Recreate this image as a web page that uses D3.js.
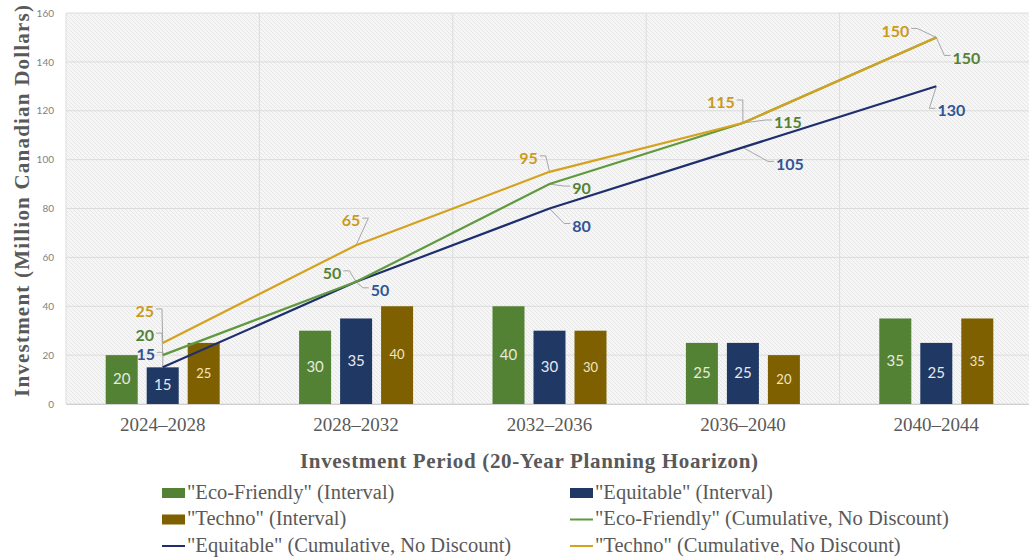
<!DOCTYPE html>
<html><head><meta charset="utf-8">
<script src="https://cdn.jsdelivr.net/npm/d3@7"></script>
<style>body{margin:0;background:#fff}svg{display:block}</style>
</head><body><svg id="c" width="1029" height="558"></svg>
<script>
const categories = ["2024–2028","2028–2032","2032–2036","2036–2040","2040–2044"];
const ecoInterval = [20,30,40,25,35];
const equInterval = [15,35,30,25,25];
const techInterval = [25,40,30,20,35];
const ecoCum = [20,50,90,115,150];
const equCum = [15,50,80,105,130];
const techCum = [25,65,95,115,150];
const yTicks = [0,20,40,60,80,100,120,140,160];

// label placement offsets (layout only)
const techOff = [[-18,-30],[-5,-23],[-21,-12],[-22,-19],[-41,-5]];
const ecoOff = [[-18,-18],[-24,-7],[32,6],[45,1],[30,22]];
const equOff = [[-17,-11],[24,10],[32,19],[47,18],[15,26]];

const svg = d3.select("#c");
const m = {l:66, r:1033, t:13, b:404};
const x = d3.scaleBand().domain(categories).range([m.l, m.r]);
const y = d3.scaleLinear().domain([0,160]).range([m.b, m.t]);

const defs = svg.append("defs");
const pat = defs.append("pattern").attr("id","hatch").attr("patternUnits","userSpaceOnUse")
  .attr("width",4).attr("height",4);
pat.append("rect").attr("width",4).attr("height",4).attr("fill","#f6f6f6");
pat.append("path").attr("d","M-1,-1 L5,5 M-1,3 L1,5 M3,-1 L5,1").attr("stroke","#e2e2e2").attr("stroke-width",0.8);

svg.append("rect").attr("x",m.l).attr("y",m.t).attr("width",m.r-m.l).attr("height",m.b-m.t).attr("fill","url(#hatch)");

// gridlines
svg.append("g").selectAll("line").data(yTicks).join("line")
  .attr("x1",m.l).attr("x2",m.r).attr("y1",d=>y(d)).attr("y2",d=>y(d))
  .attr("stroke","#dcdcdc").attr("stroke-width",1);
svg.append("g").selectAll("line").data(categories.concat(["end"])).join("line")
  .attr("x1",(d,i)=>m.l+i*x.bandwidth()).attr("x2",(d,i)=>m.l+i*x.bandwidth())
  .attr("y1",m.t).attr("y2",m.b).attr("stroke","#dcdcdc");

// y axis
const ya = svg.append("g").attr("transform",`translate(${m.l},0)`)
  .call(d3.axisLeft(y).tickValues(yTicks).tickSize(0).tickPadding(12));
ya.select(".domain").remove();
ya.selectAll("text").attr("font-family","Lato, 'Open Sans', sans-serif").attr("font-size",10).attr("fill","#7f7f7f");

// x axis
const xa = svg.append("g").attr("transform",`translate(0,${m.b})`)
  .call(d3.axisBottom(x).tickSize(0).tickPadding(14));
xa.select(".domain").attr("stroke","#d0d0d0");
xa.selectAll("text").attr("font-family","'Liberation Serif', 'DejaVu Serif', serif").attr("font-size",19).attr("fill","#595959");

// bars
const bw = 32, gap = 9;
const barSeries = [
  {vals:ecoInterval, color:"#548235", lbl:"#e6eadf", fs:15},
  {vals:equInterval, color:"#1f3864", lbl:"#e6e8ee", fs:15},
  {vals:techInterval, color:"#7f6000", lbl:"#f3e6c0", fs:13}
];
barSeries.forEach((s,k)=>{
  const off = (k-1)*(bw+gap) - bw/2;
  const g = svg.append("g");
  g.selectAll("rect").data(s.vals).join("rect")
    .attr("x",(d,i)=>x(categories[i])+x.bandwidth()/2+off)
    .attr("y",d=>y(d)).attr("width",bw).attr("height",d=>y(0)-y(d)).attr("fill",s.color);
  g.selectAll("text").data(s.vals).join("text")
    .attr("x",(d,i)=>x(categories[i])+x.bandwidth()/2+off+bw/2)
    .attr("y",d=>(y(d)+y(0))/2+1)
    .attr("text-anchor","middle").attr("dominant-baseline","middle")
    .attr("font-family","Lato, 'Open Sans', sans-serif").attr("font-size",s.fs)
    .attr("fill",s.lbl).text(d=>d);
});

// lines
const cx = i => x(categories[i]) + x.bandwidth()/2;
const lineSeries = [
  {vals:equCum, color:"#1f2f6e", lbl:"#2f5597", off:equOff},
  {vals:ecoCum, color:"#5f9a3e", lbl:"#548235", off:ecoOff},
  {vals:techCum, color:"#d4a21f", lbl:"#cc9a1a", off:techOff}
];
const line = d3.line().x((d,i)=>cx(i)).y(d=>y(d));
const leaderG = svg.append("g");
lineSeries.forEach(s=>{
  svg.append("path").datum(s.vals).attr("d",line).attr("fill","none")
    .attr("stroke",s.color).attr("stroke-width",2.2);
});
const labelG = svg.append("g");
lineSeries.forEach(s=>{
  s.vals.forEach((v,i)=>{
    const px = cx(i), py = y(v);
    const lx = px + s.off[i][0], ly = py + s.off[i][1];
    const t = labelG.append("text").attr("x",lx).attr("y",ly)
      .attr("text-anchor","middle").attr("dominant-baseline","middle")
      .attr("font-family","Lato, 'Open Sans', sans-serif").attr("font-weight","bold")
      .attr("font-size",16).attr("fill",s.lbl).text(v);
    const w = t.node().getComputedTextLength();
    const dist = Math.hypot(lx-px, ly-py);
    if (dist > 16) {
      const left = lx < px;
      const sx = left ? lx + w/2 + 2 : lx - w/2 - 2;
      const ex = left ? sx + 6 : sx - 6;
      leaderG.append("path").attr("d",`M${sx},${ly-4}L${ex},${ly-4}L${px},${py}`)
        .attr("fill","none").attr("stroke","#a6a6a6").attr("stroke-width",1);
    }
  });
});

// axis titles
svg.append("text").attr("transform",`translate(24,201) rotate(-90)`)
  .attr("text-anchor","middle").attr("dominant-baseline","middle")
  .attr("font-family","'Liberation Serif', 'DejaVu Serif', serif").attr("font-weight","bold")
  .attr("font-size",21).attr("fill","#595959").attr("textLength",392)
  .text("Investment (Million Canadian Dollars)");
svg.append("text").attr("x",529).attr("y",463).attr("text-anchor","middle")
  .attr("dominant-baseline","middle")
  .attr("font-family","'Liberation Serif', 'DejaVu Serif', serif").attr("font-weight","bold")
  .attr("font-size",21).attr("fill","#595959").attr("textLength",458)
  .text("Investment Period (20-Year Planning Hoarizon)");

// legend
const legendItems = [
  {name:"\"Eco-Friendly\" (Interval)", color:"#548235", type:"bar"},
  {name:"\"Equitable\" (Interval)", color:"#1f3864", type:"bar"},
  {name:"\"Techno\" (Interval)", color:"#7f6000", type:"bar"},
  {name:"\"Eco-Friendly\" (Cumulative, No Discount)", color:"#5f9a3e", type:"line"},
  {name:"\"Equitable\" (Cumulative, No Discount)", color:"#1f2f6e", type:"line"},
  {name:"\"Techno\" (Cumulative, No Discount)", color:"#d4a21f", type:"line"}
];
const lg = svg.append("g").selectAll("g").data(legendItems).join("g")
  .attr("transform",(d,i)=>`translate(${i%2===0?162:570},${493+Math.floor(i/2)*26.5})`);
lg.each(function(d){
  const g = d3.select(this);
  if (d.type==="bar") g.append("rect").attr("x",0).attr("y",-5).attr("width",23).attr("height",10).attr("fill",d.color);
  else g.append("line").attr("x1",0).attr("x2",23).attr("y1",0).attr("y2",0).attr("stroke",d.color).attr("stroke-width",2);
  g.append("text").attr("x",25).attr("y",1).attr("dominant-baseline","middle")
    .attr("font-family","'Liberation Serif', 'DejaVu Serif', serif").attr("font-size",20.5)
    .attr("fill","#595959").text(d.name);
});
</script></body></html>
